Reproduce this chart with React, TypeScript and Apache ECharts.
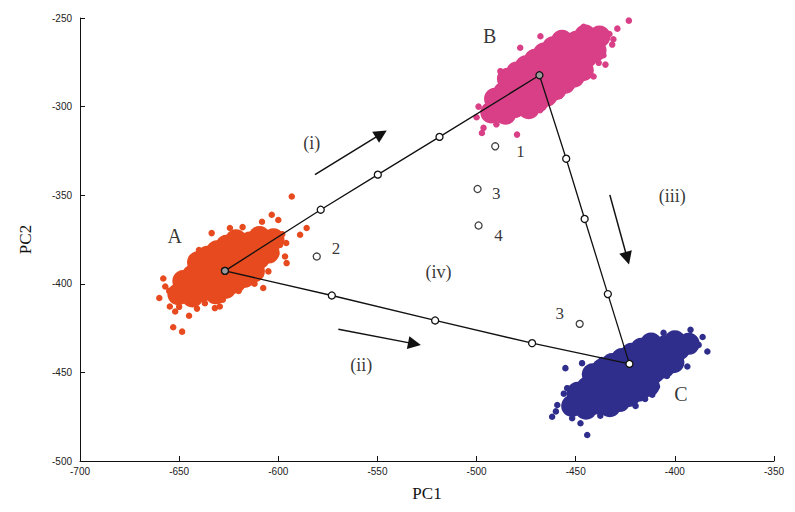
import React, { useEffect, useRef } from 'react';
import * as echarts from 'echarts';

// Axis ranges (tick labels every 50)
const xMin = -700;
const xMax = -350;
const yMin = -500;
const yMax = -250;
const tickStep = 50;

// Cluster A (orange) – dense core and scattered edge points
const clusterACore = [
  [-650.4, -405.9], [-645.6, -402.8], [-640.8, -399.7], [-636.0, -396.6], [-631.2, -393.5],
  [-626.4, -390.4], [-621.6, -387.3], [-616.8, -384.2], [-612.0, -381.1], [-607.2, -378.0], [-602.4, -374.9],
  [-643.3, -407.2], [-638.5, -404.1], [-633.7, -401.0], [-628.9, -397.9], [-624.1, -394.8],
  [-619.3, -391.7], [-614.5, -388.6], [-609.7, -385.5], [-604.9, -382.4],
  [-647.9, -398.4], [-643.1, -395.3], [-638.3, -392.2], [-633.5, -389.1], [-628.7, -386.0],
  [-623.9, -382.9], [-619.1, -379.8], [-614.3, -376.7], [-609.5, -373.6],
  [-631.5, -405.4], [-626.7, -402.3], [-621.9, -399.2], [-617.1, -396.1], [-612.3, -393.0],
  [-640.5, -387.8], [-635.7, -384.7], [-630.9, -381.6], [-626.1, -378.5], [-621.3, -375.4],
];
const clusterASpread = [
  [-653, -424.5], [-648.5, -427], [-657, -401.5], [-654.7, -412.8], [-652, -415.6],
  [-607.6, -402.4], [-603.3, -361], [-596.6, -384.6], [-595.8, -388.3], [-589, -372.3],
  [-585.7, -368.5], [-593.2, -350.7], [-633.6, -371.4], [-624.4, -368.5], [-632, -413.7],
  [-629.5, -412.8], [-608.2, -365], [-599.1, -378], [-650, -413], [-641, -414],
  [-598, -372], [-605, -393], [-645, -418], [-618, -368], [-612, -400],
  [-660, -408], [-637, -411], [-620, -404], [-600, -364], [-596, -377],
  [-658, -397], [-640, -381], [-628, -409], [-655, -404], [-601, -383],
];

// Cluster B (magenta)
const clusterBCore = [
  [-492.6, -303.3], [-488.1, -299.8], [-483.5, -296.2], [-479.0, -292.6], [-474.4, -289.0],
  [-469.9, -285.5], [-465.3, -281.9], [-460.8, -278.3], [-456.2, -274.8], [-451.7, -271.2],
  [-447.1, -267.6], [-442.6, -264.1], [-438.0, -260.5],
  [-485.5, -304.0], [-480.9, -300.4], [-476.4, -296.8], [-471.8, -293.2], [-467.3, -289.7],
  [-462.7, -286.1], [-458.2, -282.5], [-453.6, -279.0], [-449.1, -275.4], [-444.5, -271.8], [-440.0, -268.3],
  [-490.7, -295.6], [-486.1, -292.0], [-481.6, -288.4], [-477.0, -284.8], [-472.5, -281.3],
  [-467.9, -277.7], [-463.4, -274.1], [-458.8, -270.6], [-454.3, -267.0], [-449.7, -263.4], [-445.2, -259.9],
  [-473.7, -300.9], [-469.2, -297.3], [-464.6, -293.8], [-460.1, -290.2], [-455.5, -286.6],
  [-451.0, -283.1], [-446.4, -279.5],
  [-484.2, -284.3], [-479.6, -280.7], [-475.1, -277.2], [-470.5, -273.6], [-466.0, -270.0],
  [-461.4, -266.5], [-456.9, -262.9],
];
const clusterBSpread = [
  [-423.2, -251.5], [-478, -266.8], [-467.8, -260.3], [-438.4, -275.3], [-435, -276.3],
  [-431.6, -265], [-496.5, -312], [-497.3, -314.9], [-479.6, -315.8], [-472.9, -304.5],
  [-488, -280], [-429, -256], [-500, -306], [-490, -310], [-436, -271],
  [-433, -259], [-486, -283], [-446, -255], [-499, -300], [-484, -308],
  [-431, -262], [-468, -302], [-441, -283], [-458, -294],
];

// Cluster C (dark blue)
const clusterCCore = [
  [-451.8, -468.9], [-446.9, -466.0], [-442.0, -463.0], [-437.1, -460.1], [-432.2, -457.2],
  [-427.3, -454.3], [-422.4, -451.4], [-417.5, -448.5], [-412.6, -445.6], [-407.7, -442.7],
  [-402.8, -439.8], [-397.9, -436.9], [-393.0, -433.9],
  [-444.8, -470.5], [-439.9, -467.5], [-435.0, -464.6], [-430.1, -461.7], [-425.2, -458.8],
  [-420.3, -455.9], [-415.4, -453.0], [-410.5, -450.1], [-405.6, -447.2], [-400.7, -444.3],
  [-449.0, -461.5], [-444.1, -458.5], [-439.2, -455.6], [-434.3, -452.7], [-429.4, -449.8],
  [-424.5, -446.9], [-419.6, -444.0], [-414.7, -441.1], [-409.8, -438.2], [-404.9, -435.3], [-400.0, -432.4],
  [-432.8, -469.1], [-427.9, -466.2], [-423.0, -463.3], [-418.1, -460.4], [-413.2, -457.5],
  [-441.4, -451.1], [-436.5, -448.2], [-431.6, -445.3], [-426.7, -442.4], [-421.8, -439.5],
  [-416.9, -436.6], [-412.0, -433.7],
];
const clusterCSpread = [
  [-392.1, -426], [-383.6, -438.2], [-393.7, -446.7], [-461.9, -475], [-455.2, -447.6],
  [-446.8, -444.8], [-454.3, -458.9], [-444.2, -485.3], [-447.6, -478.7], [-451.8, -475.9],
  [-419.8, -468.9], [-430.8, -471.2], [-405.7, -427.7], [-388, -434.5], [-452.7, -465.5],
  [-459.3, -468.4], [-437.6, -474.4], [-437, -443], [-411.4, -462.6], [-398, -429],
  [-386, -430], [-460, -472], [-415, -465], [-404, -452], [-456, -462], [-409, -458],
];

// Path nodes and intermediate points
const nodeA = [-626.9, -392.7];
const nodeB = [-468.3, -282.3];
const nodeC = [-422.9, -445.2];
const pathAB = [[-578.6, -358.2], [-549.8, -338.4], [-518.7, -317.1]];
const pathBC = [[-454.8, -329.4], [-445.5, -363.4], [-433.8, -405.8]];
const pathAC = [[-573.0, -406.6], [-520.9, -420.7], [-472.0, -433.5]];

// Isolated numbered points
const isolatedPoints = [[-490.6, -322.4], [-499.5, -346.5], [-499.0, -367.1], [-580.6, -384.6], [-448.0, -422.6]];
const isolatedLabels = ['1', '3', '4', '2', '3'];
const isolatedLabelPos = [[-477.9, -325.3], [-490.1, -349.3], [-488.9, -372.9], [-570.9, -379.8], [-458.1, -417.0]];

// Cluster and region labels
const clusterLabels = ['A', 'B', 'C'];
const clusterLabelPos = [[-652.2, -373.3], [-493.4, -260.3], [-397, -462.0]];
const regionLabels = ['(i)', '(ii)', '(iii)', '(iv)'];
const regionLabelPos = [[-583.1, -320.5], [-558.2, -445.8], [-401.3, -350.7], [-519.2, -393.1]];

// Direction arrows [start, end]
const arrows = [
  [[-581.5, -338.4], [-548.1, -315.4]],
  [[-569.7, -425.6], [-531.3, -433.9]],
  [[-432.8, -349.8], [-424.0, -385.6]],
];

const colorA = '#e64a1e';
const colorB = '#d93f86';
const colorC = '#302e8c';
const serif = '"Liberation Serif", "DejaVu Serif", serif';
const sans = '"Liberation Sans", Arial, sans-serif';

function textSeries(names: string[], pos: number[][], size: number) {
  return {
    type: 'scatter',
    symbolSize: 1,
    itemStyle: { color: 'rgba(255,255,255,0)' },
    z: 10,
    silent: true,
    label: {
      show: true,
      position: 'inside',
      formatter: (p: any) => p.name,
      color: '#000000',
      textBorderWidth: 0,
      fontFamily: serif,
      fontSize: size,
    },
    data: names.map((n, i) => ({ name: n, value: pos[i] })),
  };
}

export default function App() {
  const ref = useRef<HTMLDivElement>(null);
  useEffect(() => {
    if (!ref.current) return;
    const chart = echarts.init(ref.current, undefined, { renderer: 'svg' });
    const nodeStyleDark = { color: '#9a9a9a', borderColor: '#111', borderWidth: 1.3 };
    const nodeStyleLight = { color: '#ffffff', borderColor: '#111', borderWidth: 1.3 };
    const pathData = [
      { value: nodeA, itemStyle: nodeStyleDark },
      ...pathAB.map((p) => ({ value: p })),
      { value: nodeB, itemStyle: nodeStyleDark },
      ...pathBC.map((p) => ({ value: p })),
      { value: nodeC, itemStyle: nodeStyleLight },
      ...pathAC.slice().reverse().map((p) => ({ value: p })),
      { value: nodeA, itemStyle: nodeStyleDark },
    ];
    const clusterSeries = (core: number[][], spread: number[][], color: string) => [
      { type: 'scatter', data: core, symbolSize: 22, itemStyle: { color, opacity: 1 }, silent: true, z: 2 },
      { type: 'scatter', data: spread, symbolSize: 6.5, itemStyle: { color, opacity: 1 }, silent: true, z: 2 },
    ];
    chart.setOption({
      animation: false,
      backgroundColor: '#ffffff',
      grid: { left: 80, right: 21, top: 18, bottom: 51, containLabel: false },
      xAxis: {
        type: 'value',
        min: xMin,
        max: xMax,
        interval: tickStep,
        name: 'PC1',
        nameLocation: 'middle',
        nameGap: 24,
        nameTextStyle: { fontFamily: serif, fontSize: 17, color: '#111' },
        axisLine: { show: true, onZero: false, lineStyle: { color: '#111', width: 1 } },
        axisTick: { show: true, inside: true, length: 5, lineStyle: { color: '#111' } },
        axisLabel: { color: '#222', fontSize: 10, fontFamily: sans, margin: 5 },
        splitLine: { show: false },
      },
      yAxis: {
        type: 'value',
        min: yMin,
        max: yMax,
        interval: tickStep,
        name: 'PC2',
        nameLocation: 'middle',
        nameGap: 46,
        nameRotate: 90,
        nameTextStyle: { fontFamily: serif, fontSize: 17, color: '#111' },
        axisLine: { show: true, onZero: false, lineStyle: { color: '#111', width: 1 } },
        axisTick: { show: true, inside: true, length: 5, lineStyle: { color: '#111' } },
        axisLabel: { color: '#222', fontSize: 10, fontFamily: sans, margin: 8 },
        splitLine: { show: false },
      },
      series: [
        ...clusterSeries(clusterACore, clusterASpread, colorA),
        ...clusterSeries(clusterBCore, clusterBSpread, colorB),
        ...clusterSeries(clusterCCore, clusterCSpread, colorC),
        {
          type: 'line',
          data: pathData,
          symbol: 'circle',
          symbolSize: 7,
          showAllSymbol: true,
          lineStyle: { color: '#111', width: 1.3 },
          itemStyle: { color: '#ffffff', borderColor: '#111', borderWidth: 1.3 },
          z: 5,
          silent: true,
        },
        {
          type: 'scatter',
          data: isolatedPoints,
          symbol: 'circle',
          symbolSize: 7,
          itemStyle: { color: '#ffffff', borderColor: '#111', borderWidth: 1.3 },
          z: 5,
          silent: true,
        },
        {
          type: 'lines',
          coordinateSystem: 'cartesian2d',
          data: arrows.map((c) => ({ coords: c })),
          symbol: ['none', 'triangle'],
          symbolSize: 13,
          lineStyle: { color: '#111', width: 1.5, opacity: 1 },
          z: 6,
          silent: true,
        },
        textSeries(clusterLabels, clusterLabelPos, 20),
        textSeries(regionLabels, regionLabelPos, 18),
        textSeries(isolatedLabels, isolatedLabelPos, 17),
      ],
    });
    return () => chart.dispose();
  }, []);
  return (
    <div
      ref={ref}
      style={{ position: 'absolute', left: 0, top: 0, width: 795, height: 512, background: '#fff' }}
    />
  );
}
